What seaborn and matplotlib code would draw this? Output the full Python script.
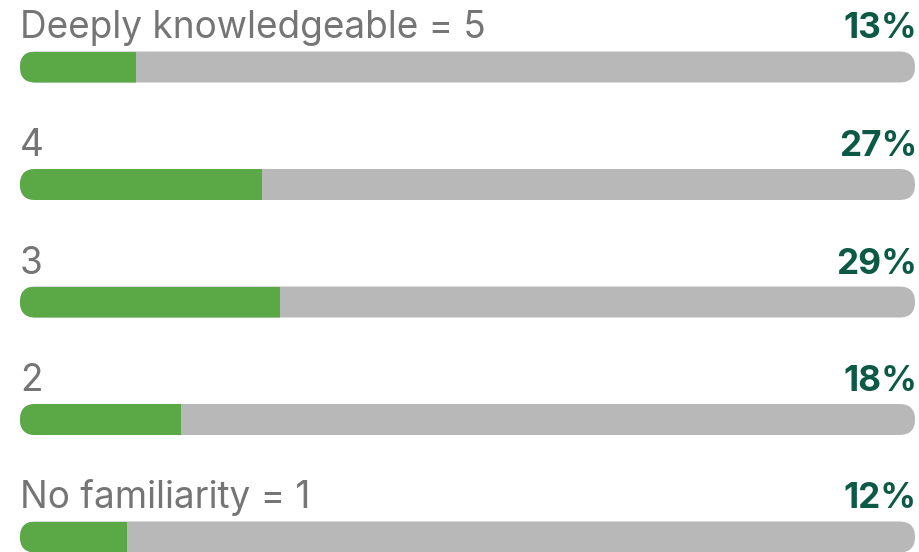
import matplotlib
matplotlib.use("Agg")
import pandas as pd
import matplotlib.pyplot as plt
import matplotlib.transforms as mtransforms
import seaborn as sns
from matplotlib.patches import FancyBboxPatch

# survey answers, top to bottom
labels = ["Deeply knowledgeable = 5", "4", "3", "2", "No familiarity = 1"]
shares = [13, 27, 29, 18, 12]
track = [100] * len(labels)

GREEN = "#5aa846"
TRACK = "#b8b8b8"
LABEL_COLOR = "#757575"
PCT_COLOR = "#0c5a46"

sns.set_theme(style="white")
plt.rcParams["font.family"] = ["Inter", "DejaVu Sans"]

df = pd.DataFrame({"label": labels, "share": shares, "track": track})

W, H = 919, 552
fig = plt.figure(figsize=(W / 100, H / 100), dpi=100)
ax = fig.add_axes([20 / W, 0, 895 / W, 1])

row_px = 117.5
bar_px = 31
bw = bar_px / row_px

sns.barplot(data=df, y="label", x="track", color=TRACK, width=bw,
            saturation=1, linewidth=0, ax=ax)
sns.barplot(data=df, y="label", x="share", color=GREEN, width=bw,
            saturation=1, linewidth=0, ax=ax)
ax.set_xlim(0, 100)
ax.set_ylim(4 + (H - 537) / row_px, -67 / row_px)
ax.axis("off")

# round the grey tracks, clip the green fill to them
n = len(labels)
tracks, fills = ax.patches[:n], ax.patches[n:2 * n]
x_per_px = 100 / 895
y_per_px = 1 / row_px
for t, f in zip(tracks, fills):
    box = FancyBboxPatch((t.get_x(), t.get_y()), t.get_width(), t.get_height(),
                         boxstyle=f"round,pad=0,rounding_size={bar_px / 2 * x_per_px}",
                         mutation_aspect=y_per_px / x_per_px,
                         fc=TRACK, ec="none", zorder=0.5)
    t.remove()
    ax.add_patch(box)
    f.set_clip_path(box)

# labels above each bar
off = (bar_px / 2 + 13) / row_px
nudge = ax.transData + mtransforms.ScaledTranslation(2 / 100, 0, fig.dpi_scale_trans)
for i, (lab, v) in enumerate(zip(labels, shares)):
    ax.text(0, i - off, lab, ha="left", va="baseline", fontsize=26.6,
            color=LABEL_COLOR)
    ax.text(100, i - off, f"{v}%", ha="right", va="baseline", fontsize=25.4,
            fontweight="bold", color=PCT_COLOR, transform=nudge)

fig.savefig("out.png", dpi=100, facecolor="white")
